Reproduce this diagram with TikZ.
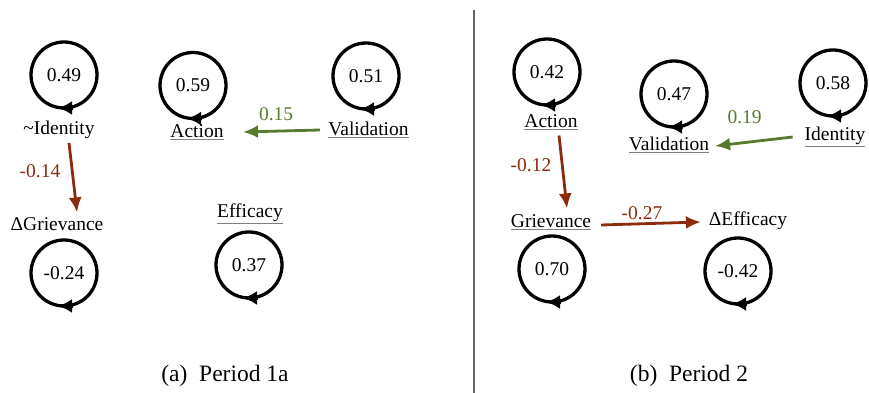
\documentclass[tikz,border=0pt]{standalone}
\usepackage{fontspec}
\setmainfont{Liberation Serif}
\usepackage{tikz}
\usetikzlibrary{arrows.meta}
\definecolor{negred}{RGB}{140,42,14}
\definecolor{posgreen}{RGB}{88,122,46}
\newcommand{\ulvar}[1]{{\color{gray}\underline{\color{black}#1}}}

\begin{document}
\begin{tikzpicture}
          [x=1pt,y=1pt,font=\fontsize{19.5}{23}\selectfont,
           every node/.style={inner sep=0pt,outer sep=0pt}]
          \tikzstyle{selfloop}=[circle,draw,line width=3.3pt,minimum size=66pt]
          \tikzstyle{looptip}=[line width=3.3pt,-{Latex[length=14pt,width=14pt]}]
          \tikzstyle{negpath}=[color=negred,line width=2.8pt,-{Latex[length=15pt,width=13pt]}]
          \tikzstyle{pospath}=[color=posgreen,line width=2.8pt,-{Latex[length=15pt,width=13pt]}]
          \useasboundingbox (0,0) rectangle (869,393);

          % (a) Period 1a
          \node[selfloop] (lpIdA) at (64,318) {0.49};
          \node (idA) at (59,263) {\textasciitilde Identity};
          \node[selfloop] (lpActA) at (193,307.5) {0.59};
          \node (actA) at (197,261) {\ulvar{Action}};
          \node[selfloop] (lpValA) at (366,317) {0.51};
          \node (valA) at (368.5,263) {\ulvar{Validation}};
          \node (grA) at (57,169) {ΔGrievance};
          \node[selfloop] (lpGrA) at (64,120) {-0.24};
          \node (effA) at (250,179) {\ulvar{Efficacy}};
          \node[selfloop] (lpEffA) at (249,128) {0.37};
          \node[font=\fontsize{23.5}{27}\selectfont] (capA) at (225,17) {(a)\ \ Period 1a};

          % (b) Period 2
          \node[selfloop] (lpActB) at (547,321) {0.42};
          \node (actB) at (551,271) {\ulvar{Action}};
          \node[selfloop] (lpValB) at (674,299) {0.47};
          \node (valB) at (669,248) {\ulvar{Validation}};
          \node[selfloop] (lpIdB) at (833,310) {0.58};
          \node (idB) at (835,256) {\ulvar{Identity}};
          \node (grB) at (551,171) {\ulvar{Grievance}};
          \node[selfloop] (lpGrB) at (552,124) {0.70};
          \node (effB) at (748,172) {ΔEfficacy};
          \node[selfloop] (lpEffB) at (738,122) {-0.42};
          \node[font=\fontsize{23.5}{27}\selectfont] (capB) at (689,17) {(b)\ \ Period 2};

          \coordinate (divTop) at (474,383);
          \coordinate (divBot) at (474,0);
          \draw[gray!80!black,line width=1.2pt] (divTop) -- (divBot);

          % self loops
          \foreach \lp in {lpIdA,lpActA,lpValA,lpGrA,lpEffA,lpActB,lpValB,lpIdB,lpGrB,lpEffB}
            \draw[looptip] ([xshift=9pt]\lp.south) -- ([xshift=-6pt]\lp.south);

          % cross paths
          \path[negpath]
          ([xshift=10pt,yshift=-4pt]idA.south) edge node[left=12pt,pos=0.41] {-0.14} ([xshift=20pt,yshift=5pt]grA.north)
          ([xshift=8pt,yshift=-6pt]actB.south) edge node[left=11pt,pos=0.41] {-0.12} ([xshift=16pt,yshift=6pt]grB.north)
          ([xshift=10pt,yshift=-3pt]grB.east) edge node[above=4pt,pos=0.41] {-0.27} ([xshift=-8pt,yshift=-1pt]effB.west)
          ;
          \path[pospath]
          ([xshift=-8.5pt]valA.west) edge node[above=10pt,pos=0.57] {0.15} ([xshift=19.5pt]actA.east)
          ([xshift=-12pt]idB.west) edge node[above=19pt,pos=0.62] {0.19} ([xshift=6pt,yshift=-1pt]valB.east)
          ;
        \end{tikzpicture}
\end{document}
